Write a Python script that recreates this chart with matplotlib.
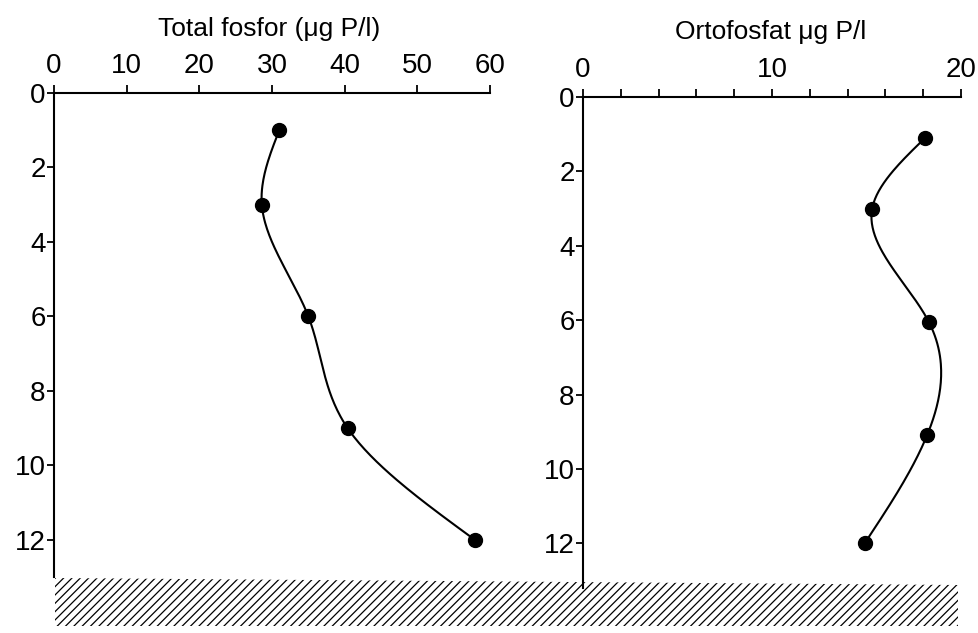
import numpy as np
import matplotlib
matplotlib.use('Agg')
import matplotlib.pyplot as plt
from matplotlib.patches import Polygon

plt.rcParams['font.family'] = ['Liberation Sans', 'DejaVu Sans']
plt.rcParams['hatch.linewidth'] = 0.9

# depth profiles (m)
depth = [1, 3, 6, 9, 12]
total_p = [31.0, 28.6, 35.0, 40.4, 57.9]
depth_ortho = [1.1, 3.0, 6.05, 9.1, 12.0]
ortho_p = [18.1, 15.3, 18.3, 18.2, 14.9]


def natural_spline(xk, yk, n=200):
    # natural cubic spline through the knots, returns dense curve
    xk = np.asarray(xk, float)
    yk = np.asarray(yk, float)
    k = len(xk)
    h = np.diff(xk)
    A = np.zeros((k, k))
    b = np.zeros(k)
    A[0, 0] = A[-1, -1] = 1
    for i in range(1, k - 1):
        A[i, i - 1] = h[i - 1]
        A[i, i] = 2 * (h[i - 1] + h[i])
        A[i, i + 1] = h[i]
        b[i] = 6 * ((yk[i + 1] - yk[i]) / h[i] - (yk[i] - yk[i - 1]) / h[i - 1])
    m = np.linalg.solve(A, b)
    xs = np.linspace(xk[0], xk[-1], n)
    idx = np.clip(np.searchsorted(xk, xs) - 1, 0, k - 2)
    x0, x1 = xk[idx], xk[idx + 1]
    hh = x1 - x0
    t0, t1 = x1 - xs, xs - x0
    ys = (m[idx] * t0 ** 3 + m[idx + 1] * t1 ** 3) / (6 * hh) \
        + (yk[idx] / hh - m[idx] * hh / 6) * t0 \
        + (yk[idx + 1] / hh - m[idx + 1] * hh / 6) * t1
    return xs, ys


def style_axis(ax, xmax, ymax):
    for s in ['right', 'bottom']:
        ax.spines[s].set_visible(False)
    for s in ['left', 'top']:
        ax.spines[s].set_linewidth(1.5)
    ax.set_xlim(0, xmax)
    ax.set_ylim(ymax, 0)
    ax.xaxis.tick_top()
    ax.set_yticks(range(0, 13, 2))
    ax.tick_params(axis='x', which='both', direction='out', length=6, width=1.3,
                   labelsize=20, pad=4)
    ax.tick_params(axis='y', direction='out', length=5, width=1.3,
                   labelsize=20, pad=1)


fig = plt.figure(figsize=(9.79, 6.33), dpi=100)
W, H = 979, 633

# left panel: total phosphorus
ax1 = fig.add_axes([54 / W, 1 - 577 / H, (490 - 54) / W, (577 - 93) / H])
style_axis(ax1, 60, 13)
ax1.set_xticks(range(0, 61, 10))
d, x = natural_spline(depth, total_p)
ax1.plot(x, d, color='black', lw=1.5)
ax1.plot(total_p, depth, 'o', color='black', ms=10)
fig.text(269 / W, 1 - 29 / H, 'Total fosfor (μg P/l)', fontsize=19,
         ha='center', va='center')

# right panel: orthophosphate
ax2 = fig.add_axes([583 / W, 1 - 588 / H, (961 - 583) / W, (588 - 97) / H])
style_axis(ax2, 20, 13.2)
ax2.set_xticks([0, 10, 20])
ax2.set_xticks(range(0, 21, 2), minor=True)
ax2.tick_params(axis='x', which='minor', length=6, width=1.3)
d, x = natural_spline(depth_ortho, ortho_p)
ax2.plot(x, d, color='black', lw=1.5)
ax2.plot(ortho_p, depth_ortho, 'o', color='black', ms=10)
fig.text(771 / W, 1 - 32 / H, 'Ortofosfat μg P/l', fontsize=19,
         ha='center', va='center')

# hatched lake bottom
verts = [(55 / W, 1 - 578 / H), (958 / W, 1 - 585 / H),
         (958 / W, 1 - 626 / H), (55 / W, 1 - 626 / H)]
fig.patches.append(Polygon(verts, closed=True, transform=fig.transFigure,
                           facecolor='none', edgecolor='black', lw=0,
                           hatch='////'))

fig.savefig('out.png', dpi=100)
